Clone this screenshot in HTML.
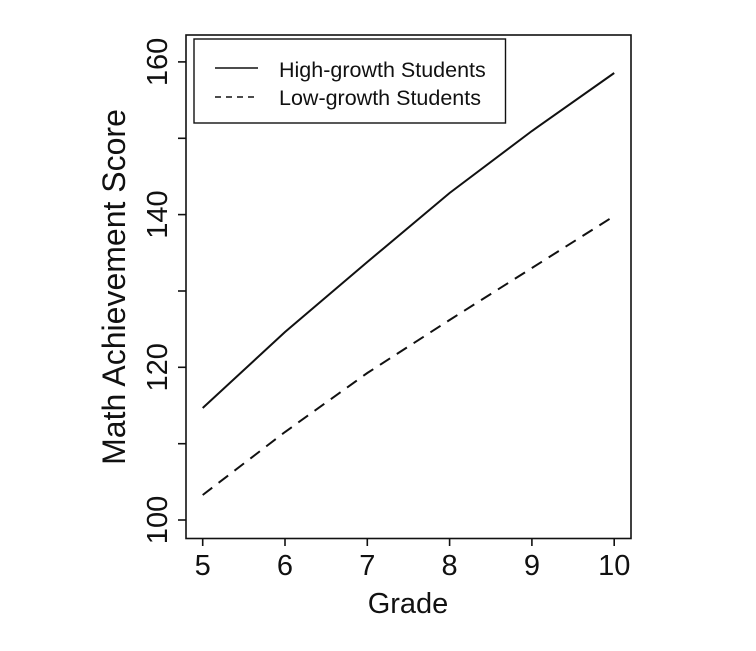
<!DOCTYPE html>
<html><head><style>body{margin:0;background:#fff}svg{display:block}</style></head><body>
<svg width="756" height="651" xmlns="http://www.w3.org/2000/svg" font-family="Liberation Sans, sans-serif" fill="#111">
<rect x="186" y="35" width="445" height="503.5" fill="none" stroke="#111" stroke-width="1.6"/>
<g stroke="#111" stroke-width="1.6">
<line x1="202.7" y1="538.5" x2="202.7" y2="546"/><line x1="285" y1="538.5" x2="285" y2="546"/><line x1="367.3" y1="538.5" x2="367.3" y2="546"/><line x1="449.6" y1="538.5" x2="449.6" y2="546"/><line x1="531.9" y1="538.5" x2="531.9" y2="546"/><line x1="614.2" y1="538.5" x2="614.2" y2="546"/>
<line x1="178" y1="520" x2="186" y2="520"/><line x1="178" y1="443.7" x2="186" y2="443.7"/><line x1="178" y1="367.3" x2="186" y2="367.3"/><line x1="178" y1="291" x2="186" y2="291"/><line x1="178" y1="214.6" x2="186" y2="214.6"/><line x1="178" y1="138.3" x2="186" y2="138.3"/><line x1="178" y1="61.9" x2="186" y2="61.9"/>
</g>
<g font-size="29" text-anchor="middle">
<text x="202.7" y="575">5</text><text x="285" y="575">6</text><text x="367.3" y="575">7</text><text x="449.6" y="575">8</text><text x="531.9" y="575">9</text><text x="614.2" y="575">10</text>
<text transform="translate(167,520) rotate(-90)">100</text>
<text transform="translate(167,367.3) rotate(-90)">120</text>
<text transform="translate(167,214.6) rotate(-90)">140</text>
<text transform="translate(167,61.9) rotate(-90)">160</text>
<text x="408" y="613">Grade</text>
<text font-size="32" transform="translate(125,287) rotate(-90)">Math Achievement Score</text>
</g>
<polyline fill="none" stroke="#111" stroke-width="2" points="202.7,408 285,332 367.3,262 449.6,193 531.9,131 614.2,73"/>
<polyline fill="none" stroke="#111" stroke-width="2" stroke-dasharray="12,8" points="202.7,495 285,432 367.3,373 449.6,320 531.9,268 614.2,216"/>
<rect x="194" y="39" width="311.5" height="84" fill="#fff" stroke="#111" stroke-width="1.4"/>
<line x1="215" y1="68" x2="258" y2="68" stroke="#111" stroke-width="1.4"/>
<line x1="215" y1="97" x2="258" y2="97" stroke="#111" stroke-width="1.4" stroke-dasharray="6,5"/>
<g font-size="21.5"><text x="279" y="77">High-growth Students</text><text x="279" y="105">Low-growth Students</text></g>
</svg>
</body></html>
